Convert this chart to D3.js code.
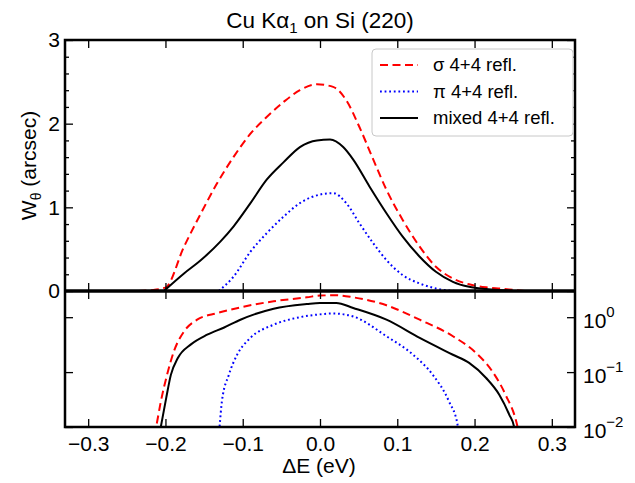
<!DOCTYPE html>
<html>
<head>
<meta charset="utf-8">
<script src="https://cdn.jsdelivr.net/npm/d3@7"></script>
<style>
  body { margin: 0; background: #fff; }
  text { font-family: "Liberation Sans", Arial, sans-serif; fill: #000; }
</style>
</head>
<body>
<svg id="chart" width="635" height="483"></svg>
<script>
// ---- data (ΔE in eV) ----
// top panel: W_theta (arcsec), linear
const sigmaTop = [[-0.235,0],[-0.219,0.01],[-0.2,0.04],[-0.176,0.53],[-0.154,0.93],[-0.133,1.29],[-0.112,1.6],[-0.09,1.88],[-0.069,2.08],[-0.047,2.26],[-0.026,2.4],[-0.004,2.47],[0.017,2.44],[0.034,2.28],[0.051,1.96],[0.069,1.57],[0.086,1.21],[0.107,0.85],[0.129,0.53],[0.15,0.29],[0.172,0.15],[0.193,0.08],[0.215,0.044],[0.236,0.028],[0.253,0.01],[0.265,0]]
const piTop = [[-0.131,0.0],[-0.112,0.17],[-0.09,0.47],[-0.069,0.69],[-0.047,0.89],[-0.026,1.05],[0.004,1.16],[0.017,1.17],[0.034,1.05],[0.051,0.81],[0.069,0.57],[0.086,0.37],[0.107,0.19],[0.129,0.09],[0.15,0.03],[0.176,0.0]]
const mixedTop = [[-0.202,0],[-0.176,0.21],[-0.154,0.37],[-0.129,0.59],[-0.112,0.77],[-0.09,1.05],[-0.069,1.33],[-0.047,1.54],[-0.026,1.72],[-0.004,1.8],[0.013,1.81],[0.03,1.72],[0.043,1.57],[0.064,1.25],[0.086,0.93],[0.107,0.65],[0.129,0.41],[0.15,0.23],[0.172,0.11],[0.193,0.05],[0.215,0.024],[0.24,0.008],[0.252,0]]

// bottom panel: log scale
const sigmaBot = [[-0.215,0.007],[-0.212,0.0103],[-0.206,0.029],[-0.197,0.1],[-0.189,0.24],[-0.176,0.55],[-0.159,0.9],[-0.133,1.19],[-0.103,1.51],[-0.06,1.95],[-0.017,2.3],[0,2.48],[0.021,2.51],[0.043,2.3],[0.086,1.65],[0.129,0.9],[0.172,0.45],[0.202,0.223],[0.223,0.103],[0.24,0.039],[0.255,0.011],[0.258,0.007]]
const piBot = [[-0.131,0.007],[-0.13,0.01],[-0.127,0.029],[-0.118,0.089],[-0.107,0.21],[-0.09,0.42],[-0.06,0.73],[-0.026,1.0],[0.004,1.14],[0.017,1.17],[0.043,1.03],[0.086,0.45],[0.12,0.21],[0.146,0.089],[0.167,0.029],[0.178,0.011],[0.18,0.007]]
const mixedBot = [[-0.208,0.007],[-0.206,0.01],[-0.199,0.034],[-0.193,0.089],[-0.184,0.18],[-0.167,0.32],[-0.146,0.48],[-0.124,0.65],[-0.103,0.9],[-0.06,1.43],[-0.017,1.74],[0,1.82],[0.021,1.82],[0.043,1.47],[0.086,0.9],[0.129,0.42],[0.172,0.207],[0.193,0.147],[0.215,0.078],[0.232,0.0387],[0.245,0.0167],[0.251,0.0103],[0.253,0.007]]

const eTicks = [-0.3,-0.2,-0.1,0,0.1,0.2,0.3]
const wTicks = [0,1,2,3]
const wMinor = [0.2,0.4,0.6,0.8,1.2,1.4,1.6,1.8,2.2,2.4,2.6,2.8]
const logTicks = [0.01,0.1,1]
const logExp = ["−2","−1","0"]
const legendLabels = ["σ 4+4 refl.","π 4+4 refl.","mixed 4+4 refl."]

// ---- layout ----
const L = 65, R = 575, T1 = 40, B1 = 291, B2 = 427
const svg = d3.select("#chart")
svg.append("rect").attr("width",635).attr("height",483).attr("fill","#fff")

const x = d3.scaleLinear().domain([-0.33,0.33]).range([L,R])
const yTop = d3.scaleLinear().domain([0,3]).range([B1,T1])
const yBot = d3.scaleLog().domain([0.01,3]).range([B2,B1])

const styles = [
  {color:"#ff0000", dash:"8,4.5"},
  {color:"#0000ff", dash:"1.8,2.8"},
  {color:"#000000", dash:null}
]

const defs = svg.append("defs")
defs.append("clipPath").attr("id","clipTop").append("rect")
  .attr("x",L).attr("y",T1-5).attr("width",R-L).attr("height",B1-T1+5)
defs.append("clipPath").attr("id","clipBot").append("rect")
  .attr("x",L).attr("y",B1).attr("width",R-L).attr("height",B2-B1)

const lineTop = d3.line().x(d => x(d[0])).y(d => yTop(d[1])).curve(d3.curveMonotoneX)
const lineBot = d3.line().x(d => x(d[0])).y(d => yBot(d[1])).curve(d3.curveMonotoneX)

const gTop = svg.append("g").attr("clip-path","url(#clipTop)")
;[sigmaTop,piTop,mixedTop].forEach((s,i) => {
  gTop.append("path").attr("d",lineTop(s)).attr("fill","none")
    .attr("stroke",styles[i].color).attr("stroke-width",2)
    .attr("stroke-dasharray",styles[i].dash)
})
const gBot = svg.append("g").attr("clip-path","url(#clipBot)")
;[sigmaBot,piBot,mixedBot].forEach((s,i) => {
  gBot.append("path").attr("d",lineBot(s)).attr("fill","none")
    .attr("stroke",styles[i].color).attr("stroke-width",2)
    .attr("stroke-dasharray",styles[i].dash)
})

// ---- axes ----
function styleAxis(g) {
  g.select(".domain").remove()
  g.selectAll(".tick line").attr("stroke","#000").attr("stroke-width",1.3)
  g.selectAll(".tick text").attr("font-size",21)
    .attr("font-family","Liberation Sans, Arial, sans-serif")
}
// top panel
svg.append("g").attr("transform",`translate(0,${B1})`)
  .call(d3.axisTop(x).tickValues(eTicks).tickSize(8).tickFormat("")).call(styleAxis)
svg.append("g").attr("transform",`translate(0,${T1})`)
  .call(d3.axisBottom(x).tickValues(eTicks).tickSize(8).tickFormat("")).call(styleAxis)
svg.append("g").attr("transform",`translate(${L},0)`)
  .call(d3.axisLeft(yTop).tickValues(wTicks).tickSize(-8).tickPadding(5).tickFormat(d3.format("d"))).call(styleAxis)
svg.append("g").attr("transform",`translate(${L},0)`)
  .call(d3.axisLeft(yTop).tickValues(wMinor).tickSize(-4).tickFormat("")).call(styleAxis)
svg.append("g").attr("transform",`translate(${R},0)`)
  .call(d3.axisRight(yTop).tickValues(wTicks).tickSize(-8).tickFormat("")).call(styleAxis)
svg.append("g").attr("transform",`translate(${R},0)`)
  .call(d3.axisRight(yTop).tickValues(wMinor).tickSize(-4).tickFormat("")).call(styleAxis)

// bottom panel
svg.append("g").attr("transform",`translate(0,${B2})`)
  .call(d3.axisBottom(x).tickValues(eTicks).tickSize(-8).tickPadding(9).tickFormat(d3.format(".1f"))).call(styleAxis)
svg.append("g").attr("transform",`translate(0,${B1})`)
  .call(d3.axisBottom(x).tickValues(eTicks).tickSize(8).tickFormat("")).call(styleAxis)
svg.append("g").attr("transform",`translate(${L},0)`)
  .call(d3.axisLeft(yBot).tickValues(logTicks).tickSize(-8).tickFormat("")).call(styleAxis)
const rAx = svg.append("g").attr("transform",`translate(${R},0)`)
  .call(d3.axisRight(yBot).tickValues(logTicks).tickSize(-8).tickFormat("")).call(styleAxis)
rAx.selectAll(".tick").each(function(d,i) {
  const t = d3.select(this).append("text").attr("x",8).attr("y",10)
    .attr("font-size",21).attr("text-anchor","start")
  t.append("tspan").text("10")
  t.append("tspan").attr("dy",-11).attr("font-size",15).text(logExp[i])
})

// frames
svg.append("rect").attr("x",L).attr("y",T1).attr("width",R-L).attr("height",B2-T1)
  .attr("fill","none").attr("stroke","#000").attr("stroke-width",2.5)
svg.append("line").attr("x1",L).attr("x2",R).attr("y1",B1).attr("y2",B1)
  .attr("stroke","#000").attr("stroke-width",3.5)

// ---- legend ----
const lg = svg.append("g").attr("transform","translate(372,49)")
lg.append("rect").attr("width",201).attr("height",87).attr("rx",4)
  .attr("fill","#fff").attr("stroke","#c8c8c8").attr("stroke-width",1)
legendLabels.forEach((lab,i) => {
  const yy = 16 + i*26.5
  lg.append("line").attr("x1",8).attr("x2",46).attr("y1",yy).attr("y2",yy)
    .attr("stroke",styles[i].color).attr("stroke-width",2)
    .attr("stroke-dasharray",styles[i].dash)
  lg.append("text").attr("x",61).attr("y",yy).attr("dy","0.35em")
    .attr("font-size",18.5).text(lab)
})

// ---- titles ----
const title = svg.append("text").attr("x",320).attr("y",28).attr("text-anchor","middle").attr("font-size",22.5)
title.append("tspan").text("Cu Kα")
title.append("tspan").attr("dy",5).attr("font-size",15).text("1")
title.append("tspan").attr("dy",-5).text(" on Si (220)")

const yl = svg.append("text").attr("transform",`translate(36,${(T1+B1)/2}) rotate(-90)`)
  .attr("text-anchor","middle").attr("font-size",21)
yl.append("tspan").text("W")
yl.append("tspan").attr("dy",5).attr("font-size",14).text("θ")
yl.append("tspan").attr("dy",-5).text(" (arcsec)")

svg.append("text").attr("x",(L+R)/2 - 1).attr("y",473).attr("text-anchor","middle")
  .attr("font-size",21).text("ΔE (eV)")
</script>
</body>
</html>
